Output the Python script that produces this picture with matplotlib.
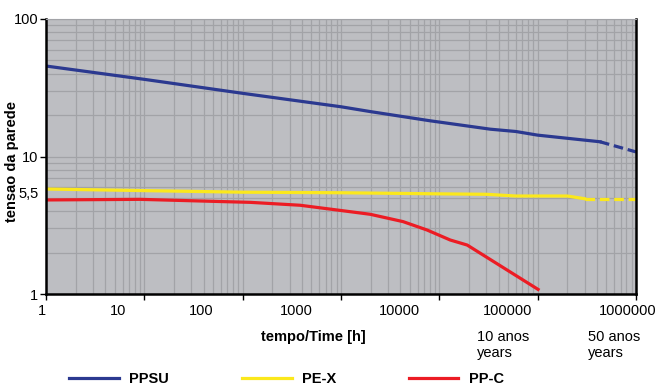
import numpy as np
import matplotlib
matplotlib.use("Agg")
from matplotlib import pyplot as plt
from matplotlib import transforms

plt.rcParams['font.family'] = ['Liberation Sans', 'DejaVu Sans']

# tempo em horas / valores
ppsu_t = [1, 10, 100, 1000, 2000, 8000, 33000, 60000, 100000, 430000]
ppsu_v = [45.5, 36.4, 28.8, 23.0, 21.2, 18.2, 15.8, 15.2, 14.3, 12.8]
ppsu_t_ext = [430000, 1000000]
ppsu_v_ext = [12.8, 10.8]

pex_t = [1, 100, 1000, 10000, 30000, 60000, 200000, 300000]
pex_v = [5.80, 5.50, 5.45, 5.35, 5.31, 5.16, 5.16, 4.93]
pex_t_ext = [300000, 1000000]
pex_v_ext = [4.93, 4.93]

ppc_t = [1, 9, 120, 384, 1050, 1980, 4280, 7500, 12900, 19200, 101000]
ppc_v = [4.83, 4.88, 4.64, 4.42, 4.03, 3.80, 3.36, 2.92, 2.47, 2.27, 1.08]

xticks = [1, 10, 100, 1000, 10000, 100000, 1000000]
xlabels = ['1', '10', '100', '1000', '10000', '100000', '1000000']
yticks = [1, 5.5, 10, 100]
ylabels = ['1', '5,5', '10', '100']

azul = '#2b3990'
amarelo = '#fbe81c'
vermelho = '#ec1c24'
fs = 10.5

fig = plt.figure(figsize=(6.62, 3.88), dpi=100)
ax = fig.add_axes([46 / 662, 1 - 294 / 388, 590 / 662, 275 / 388])
ax.set_facecolor('#bdbec2')

ax.plot(ppsu_t, ppsu_v, color=azul, lw=2.3, label='PPSU')
ax.plot(ppsu_t_ext, ppsu_v_ext, color=azul, lw=2.3, ls=(0, (3, 1.5)))
ax.plot(pex_t, pex_v, color=amarelo, lw=2.3, label='PE-X')
ax.plot(pex_t_ext, pex_v_ext, color=amarelo, lw=2.3, ls=(0, (3, 1.5)))
ax.plot(ppc_t, ppc_v, color=vermelho, lw=2.3, label='PP-C')

ax.set_xscale('log')
ax.set_yscale('log')
ax.set_xlim(1, 1000000)
ax.set_ylim(1, 100)

ax.grid(True, which='both', color='#a2a3a7', lw=0.9)
ax.set_axisbelow(True)

ax.set_xticks(xticks)
ax.set_xticklabels(xlabels, fontsize=fs)
ax.set_yticks(yticks)
ax.set_yticklabels(ylabels, fontsize=fs)
ax.tick_params(which='minor', length=0)
ax.tick_params(which='major', length=4, width=1, direction='out', pad=3)
ax.tick_params(axis='y', pad=1.5)

# o 5,5 nao tem traco nem linha de grelha
t55 = ax.yaxis.get_major_ticks()[1]
t55.tick1line.set_visible(False)
t55.gridline.set_visible(False)

# rotulos do eixo x deslocados para a esquerda como no original
desloc = [-4, -26, -41, -45, -40, -30, -8]
for lab, dx in zip(ax.get_xticklabels(), desloc):
    lab.set_transform(lab.get_transform() + transforms.ScaledTranslation(dx / 100, 0, fig.dpi_scale_trans))

for s in ['left', 'bottom', 'right']:
    ax.spines[s].set_linewidth(1.8)
    ax.spines[s].set_color('black')
ax.spines['top'].set_color('#a2a3a7')

ax.set_xlabel('tempo/Time [h]', fontsize=fs, fontweight='bold')
ax.xaxis.set_label_coords(0.454, -0.13)
ax.set_ylabel('tensao da parede', fontsize=fs, fontweight='bold')
ax.yaxis.set_label_coords(-0.046, 0.48)

ax.text(0.7306, -0.13, '10 anos\nyears', transform=ax.transAxes, fontsize=fs,
        va='top', ha='left', linespacing=1.25)
ax.text(0.9187, -0.13, '50 anos\nyears', transform=ax.transAxes, fontsize=fs,
        va='top', ha='left', linespacing=1.25)

leg = fig.legend(loc='center', bbox_to_anchor=(0.433, 0.022), ncol=3, frameon=False,
                 handlelength=3.4, handletextpad=0.7, columnspacing=5.0,
                 prop={'weight': 'bold', 'size': fs})

fig.savefig('out.png', dpi=100)
